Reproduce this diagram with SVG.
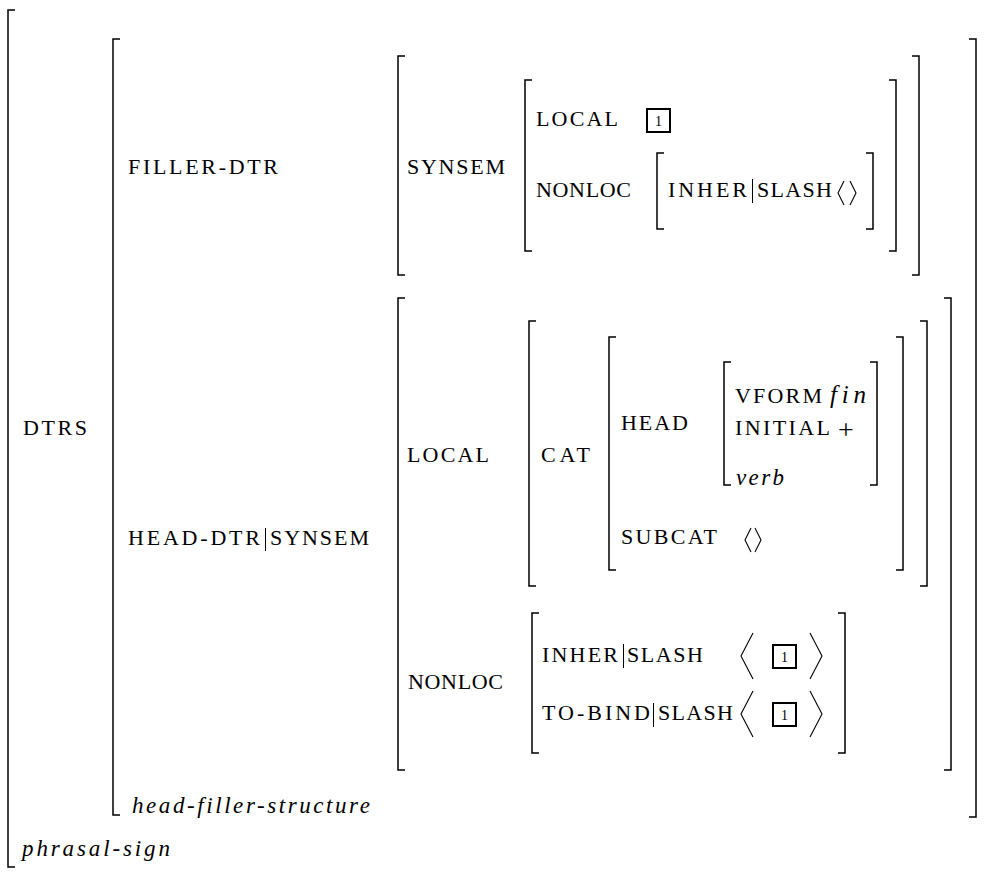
<svg xmlns="http://www.w3.org/2000/svg" width="989" height="872" viewBox="0 0 989 872">
<style>
.b{fill:none;stroke:#000;stroke-width:1.5}
.a{fill:none;stroke:#000;stroke-width:1.1}
.bar{stroke:#000;stroke-width:1}
.box{fill:none;stroke:#000;stroke-width:2}
text{font-family:"Liberation Serif","Times New Roman",serif;font-size:22px;fill:#000}
.i{font-style:italic;font-size:23px}
.f{font-size:25px}
.n{font-size:14px;text-anchor:middle}
.p{font-size:28px}
</style>
<rect width="989" height="872" fill="#fff"/>
<g id="brackets">
<path class="b" d="M15,10H8V867H15"/>
<path class="b" d="M120,39H113V815H120"/>
<path class="b" d="M969,39H976V817H969"/>
<path class="b" d="M405,56H398V275H405"/>
<path class="b" d="M912,56H919V275H912"/>
<path class="b" d="M532,80H525V251H532"/>
<path class="b" d="M889,80H896V251H889"/>
<path class="b" d="M664,153H657V229H664"/>
<path class="b" d="M866,153H873V229H866"/>
<path class="b" d="M405,298H398V770H405"/>
<path class="b" d="M944,298H951V770H944"/>
<path class="b" d="M536,321H529V586H536"/>
<path class="b" d="M920,321H927V586H920"/>
<path class="b" d="M616,337H609V570H616"/>
<path class="b" d="M896,337H903V570H896"/>
<path class="b" d="M731,362H724V485H731"/>
<path class="b" d="M870,362H877V485H870"/>
<path class="b" d="M539,613H532V753H539"/>
<path class="b" d="M838,613H845V753H838"/>
</g>
<g id="phrasal-sign">
<text x="23" y="435" textLength="64" lengthAdjust="spacing">DTRS</text>
<text class="i" x="22" y="856" textLength="148" lengthAdjust="spacing">phrasal-sign</text>
</g>
<g id="dtrs">
<text x="128" y="174" textLength="150" lengthAdjust="spacing">FILLER-DTR</text>
<text x="128" y="545" textLength="132" lengthAdjust="spacing">HEAD-DTR</text>
<line class="bar" x1="265.5" y1="528" x2="265.5" y2="551"/>
<text x="270" y="545" textLength="99" lengthAdjust="spacing">SYNSEM</text>
<text class="i" x="132" y="813" textLength="238" lengthAdjust="spacing">head-filler-structure</text>
</g>
<g id="filler-dtr">
<text x="407" y="174" textLength="98" lengthAdjust="spacing">SYNSEM</text>
<text x="536" y="126" textLength="82" lengthAdjust="spacing">LOCAL</text>
<rect class="box" x="647" y="109" width="23" height="23"/>
<text class="n" x="658.5" y="126">1</text>
<text x="536" y="197" textLength="95" lengthAdjust="spacing">NONLOC</text>
<text x="668" y="197" textLength="79" lengthAdjust="spacing">INHER</text>
<line class="bar" x1="752.5" y1="179" x2="752.5" y2="203"/>
<text x="757" y="197" textLength="75" lengthAdjust="spacing">SLASH</text>
<polyline class="a" points="844,181 838,193 844,205"/>
<polyline class="a" points="850,181 856,193 850,205"/>
</g>
<g id="head-dtr-local">
<text x="407" y="462" textLength="82" lengthAdjust="spacing">LOCAL</text>
<text x="541" y="462" textLength="49" lengthAdjust="spacing">CAT</text>
<text x="621" y="430" textLength="67" lengthAdjust="spacing">HEAD</text>
<text x="735" y="403" textLength="87" lengthAdjust="spacing">VFORM</text>
<text class="i f" x="830" y="403" textLength="36" lengthAdjust="spacing">fin</text>
<text x="735" y="435" textLength="95" lengthAdjust="spacing">INITIAL</text>
<text class="p" x="838" y="439">+</text>
<text class="i" x="736" y="485" textLength="48" lengthAdjust="spacing">verb</text>
<text x="621" y="544" textLength="96" lengthAdjust="spacing">SUBCAT</text>
<polyline class="a" points="751,528 745,540 751,552"/>
<polyline class="a" points="755,528 761,540 755,552"/>
</g>
<g id="head-dtr-nonloc">
<text x="408" y="689" textLength="95" lengthAdjust="spacing">NONLOC</text>
<text x="542" y="662" textLength="76" lengthAdjust="spacing">INHER</text>
<line class="bar" x1="623.5" y1="644" x2="623.5" y2="668"/>
<text x="627" y="662" textLength="76" lengthAdjust="spacing">SLASH</text>
<polyline class="a" points="753,633 741,656 753,679"/>
<rect class="box" x="773" y="645" width="23" height="23"/>
<text class="n" x="784.5" y="662">1</text>
<polyline class="a" points="810,633 822,656 810,679"/>
<text x="542" y="720" textLength="108" lengthAdjust="spacing">TO-BIND</text>
<line class="bar" x1="653.5" y1="703" x2="653.5" y2="727"/>
<text x="658" y="720" textLength="75" lengthAdjust="spacing">SLASH</text>
<polyline class="a" points="753,691 741,714 753,737"/>
<rect class="box" x="773" y="703" width="23" height="23"/>
<text class="n" x="784.5" y="720">1</text>
<polyline class="a" points="810,691 822,714 810,737"/>
</g>
</svg>
